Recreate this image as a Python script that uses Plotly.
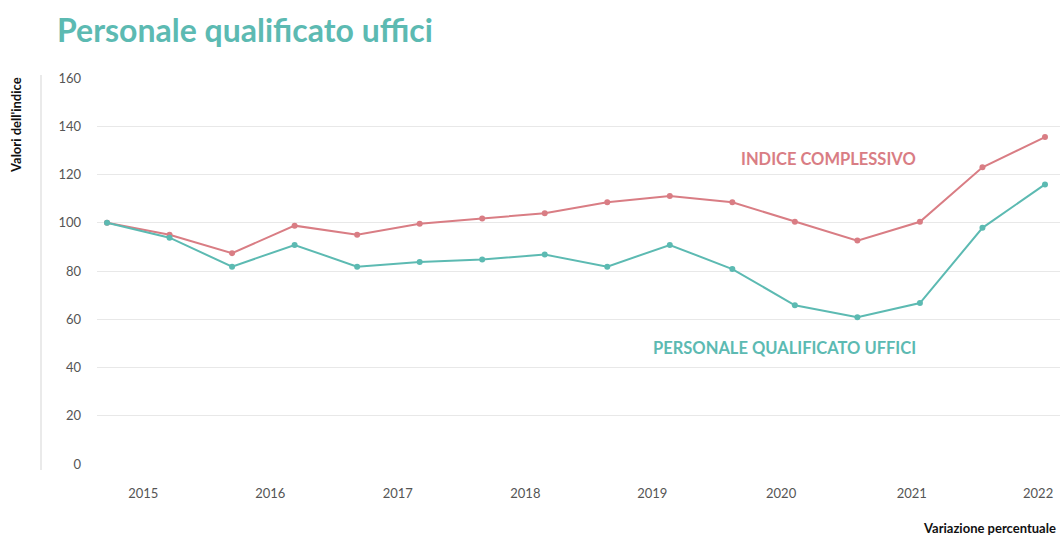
import plotly.graph_objects as go

# --- data ---
periods = list(range(16))
indice_complessivo = [100, 95, 87.4, 98.8, 95, 99.6, 101.8, 103.9, 108.5, 111.1, 108.5, 100.4, 92.6, 100.4, 123.0, 135.5]
personale_uffici = [100, 93.8, 81.8, 90.8, 81.8, 83.7, 84.8, 86.8, 81.8, 90.8, 80.8, 65.8, 60.8, 66.7, 97.9, 115.9]
year_labels = ["2015", "2016", "2017", "2018", "2019", "2020", "2021", "2022"]
year_positions = [0.58, 2.61, 4.65, 6.69, 8.72, 10.78, 12.87, 14.89]
y_ticks = [0, 20, 40, 60, 80, 100, 120, 140, 160]

RED = "#d97d84"
TEAL = "#5cbab2"
FONT = "Lato"

fig = go.Figure()
fig.add_trace(go.Scatter(x=periods, y=indice_complessivo, mode="lines+markers",
                         line=dict(color=RED, width=2), marker=dict(size=6, color=RED),
                         name="Indice complessivo"))
fig.add_trace(go.Scatter(x=periods, y=personale_uffici, mode="lines+markers",
                         line=dict(color=TEAL, width=2), marker=dict(size=6, color=TEAL),
                         name="Personale qualificato uffici"))

L, R, T, B = 97, 0, 78, 71
W, H = 1060, 535
pw = W - L - R
ph = H - T - B

fig.update_layout(
    width=W, height=H,
    margin=dict(l=L, r=R, t=T, b=B),
    paper_bgcolor="white", plot_bgcolor="white",
    showlegend=False,
    font=dict(family=FONT, color="#555555"),
    title=dict(text="<b>Personale qualificato uffici</b>", x=57 / W, xanchor="left",
               y=1 - 31 / H, yanchor="middle",
               font=dict(family=FONT, size=32, color=TEAL)),
    xaxis=dict(range=[-0.16, 15.24], tickmode="array", tickvals=year_positions,
               ticktext=year_labels, showgrid=False, zeroline=False, showline=False,
               ticks="", ticklabelstandoff=20, tickfont=dict(size=13, color="#555555")),
    yaxis=dict(range=[0, 160], tickmode="array", tickvals=y_ticks, showgrid=True,
               gridcolor="#e8e8e8", gridwidth=1, zeroline=False, showline=False,
               ticks="", ticklabelstandoff=15, tickfont=dict(size=13, color="#555555")),
)

# vertical light axis line on the left
fig.add_shape(type="line", xref="paper", yref="paper",
              x0=(41 - L) / pw, x1=(41 - L) / pw,
              y0=(T + ph - 470) / ph, y1=(T + ph - 75) / ph,
              line=dict(color="#e3e3e3", width=1.5))

fig.add_annotation(text="<b>Valori dell'indice</b>", xref="paper", yref="paper",
                   x=(16 - L) / pw, y=(T + ph - 125) / ph, textangle=-90,
                   showarrow=False, font=dict(family=FONT, size=13, color="#111111"),
                   xanchor="center", yanchor="middle")

fig.add_annotation(text="<b>INDICE COMPLESSIVO</b>", xref="paper", yref="paper",
                   x=(918 - L) / pw, y=(T + ph - 159) / ph, xanchor="right", yanchor="middle",
                   showarrow=False, font=dict(family=FONT, size=16.5, color=RED))
fig.add_annotation(text="<b>PERSONALE QUALIFICATO UFFICI</b>", xref="paper", yref="paper",
                   x=(918 - L) / pw, y=(T + ph - 348) / ph, xanchor="right", yanchor="middle",
                   showarrow=False, font=dict(family=FONT, size=16.5, color=TEAL))

fig.add_annotation(text="<b>Variazione percentuale</b>", xref="paper", yref="paper",
                   x=(1058 - L) / pw, y=(T + ph - 528) / ph, xanchor="right", yanchor="middle",
                   showarrow=False, font=dict(family=FONT, size=13, color="#111111"))

fig.write_html("out.html", config={"displayModeBar": False},
               post_script="document.body.style.margin='0';document.body.style.overflow='hidden';")
